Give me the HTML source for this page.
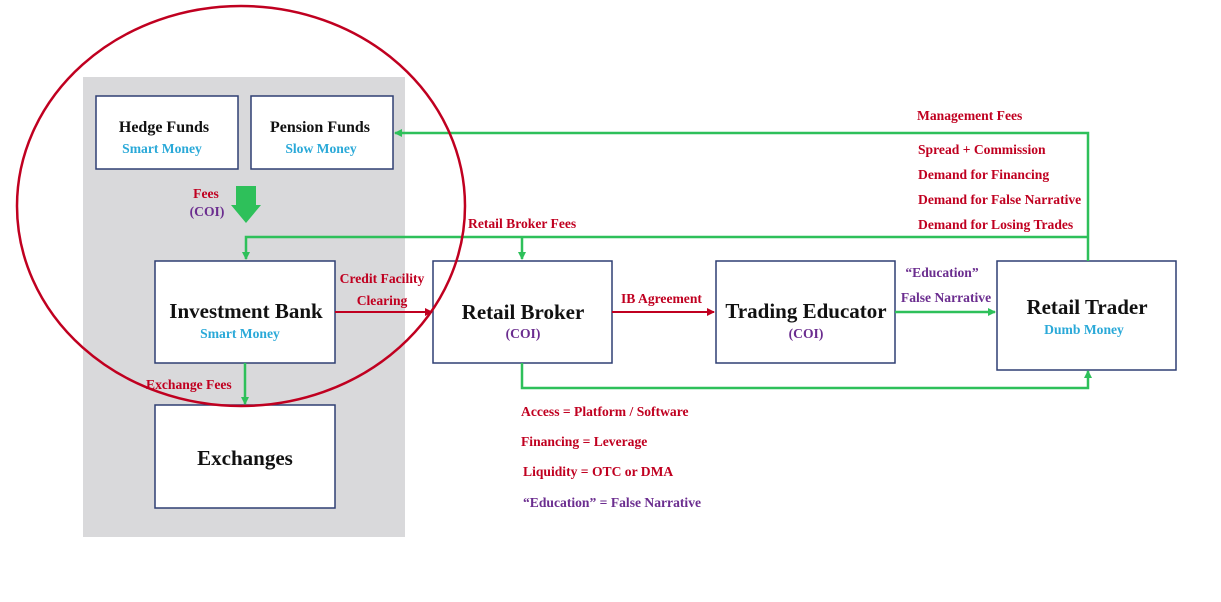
<!DOCTYPE html>
<html><head><meta charset="utf-8"><style>
html,body{margin:0;padding:0;background:#fff;}
svg{display:block;}
text{font-family:"Liberation Serif",serif;font-weight:bold;}
.r{fill:#c00020;font-size:13.6px;}
.p{fill:#6b2d8f;font-size:13.6px;}
.b{fill:#2aa9d8;font-size:13.6px;}
.t{fill:#111;}
</style></head><body>
<svg width="1221" height="602" viewBox="0 0 1221 602">
<defs>
<marker id="ag" markerWidth="8" markerHeight="8" refX="7" refY="4" orient="auto" markerUnits="userSpaceOnUse"><path d="M0,0 L8,4 L0,8 Z" fill="#2ec05a"/></marker>
<marker id="ar" markerWidth="8" markerHeight="8" refX="7" refY="4" orient="auto" markerUnits="userSpaceOnUse"><path d="M0,0 L8,4 L0,8 Z" fill="#c00020"/></marker>
</defs>
<rect x="83" y="77" width="322" height="460" fill="#d9d9db"/>
<g fill="#fff" stroke="#2f3f73" stroke-width="1.5">
<rect x="96" y="96" width="142" height="73"/>
<rect x="251" y="96" width="142" height="73"/>
<rect x="155" y="261" width="180" height="102"/>
<rect x="155" y="405" width="180" height="103"/>
<rect x="433" y="261" width="179" height="102"/>
<rect x="716" y="261" width="179" height="102"/>
<rect x="997" y="261" width="179" height="109"/>
</g>
<g fill="none" stroke="#2ec05a" stroke-width="2.5">
<path d="M1088 261 V133 H395" marker-end="url(#ag)"/>
<path d="M1088 237 H246 V259" marker-end="url(#ag)"/>
<path d="M522 237 V259" marker-end="url(#ag)"/>
<path d="M245 363 V404" marker-end="url(#ag)"/>
<path d="M522 363 V388 H1088 V371" marker-end="url(#ag)"/>
<path d="M895 312 H995" marker-end="url(#ag)"/>
</g>
<path d="M236 186 H256 V205 H261 L246 223 L231 205 H236 Z" fill="#2ec05a"/>
<g fill="none" stroke="#c00020" stroke-width="2">
<path d="M335 312 H432" marker-end="url(#ar)"/>
<path d="M612 312 H714" marker-end="url(#ar)"/>
</g>
<ellipse cx="241" cy="206" rx="224" ry="200" fill="none" stroke="#c00020" stroke-width="2.5"/>
<g text-anchor="middle">
<text x="164" y="132" class="t" font-size="16">Hedge Funds</text>
<text x="162" y="153" class="b">Smart Money</text>
<text x="320" y="132" class="t" font-size="16">Pension Funds</text>
<text x="321" y="153" class="b">Slow Money</text>
<text x="206" y="198" class="r">Fees</text>
<text x="207" y="216" class="p">(COI)</text>
<text x="246" y="318" class="t" font-size="21">Investment Bank</text>
<text x="240" y="338" class="b">Smart Money</text>
<text x="245" y="465" class="t" font-size="21">Exchanges</text>
<text x="523" y="319" class="t" font-size="21">Retail Broker</text>
<text x="523" y="338" class="p">(COI)</text>
<text x="806" y="318" class="t" font-size="21">Trading Educator</text>
<text x="806" y="338" class="p">(COI)</text>
<text x="1087" y="314" class="t" font-size="21">Retail Trader</text>
<text x="1084" y="334" class="b">Dumb Money</text>
<text x="382" y="283" class="r">Credit Facility</text>
<text x="382" y="305" class="r">Clearing</text>
<text x="942" y="277" class="p">“Education”</text>
<text x="946" y="302" class="p">False Narrative</text>
</g>
<text x="146" y="389" class="r">Exchange Fees</text>
<text x="468" y="228" class="r">Retail Broker Fees</text>
<text x="621" y="303" class="r">IB Agreement</text>
<text x="917" y="120" class="r">Management Fees</text>
<text x="918" y="154" class="r">Spread + Commission</text>
<text x="918" y="179" class="r">Demand for Financing</text>
<text x="918" y="204" class="r">Demand for False Narrative</text>
<text x="918" y="229" class="r">Demand for Losing Trades</text>
<text x="521" y="416" class="r">Access = Platform / Software</text>
<text x="521" y="446" class="r">Financing  = Leverage</text>
<text x="523" y="476" class="r">Liquidity  = OTC or DMA</text>
<text x="523" y="507" class="p">“Education” = False Narrative</text>
</svg>
</body></html>
